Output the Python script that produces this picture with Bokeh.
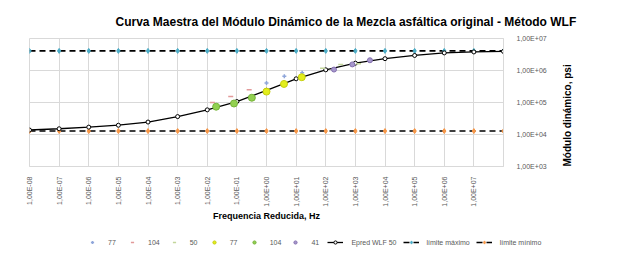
import math
from bokeh.plotting import figure
from bokeh.layouts import column
from bokeh.models import Legend, LegendItem, FixedTicker, Range1d
from bokeh.embed import file_html
from bokeh.resources import INLINE

# ---- tick labels ----
x_ticks = [1e-8, 1e-7, 1e-6, 1e-5, 1e-4, 1e-3, 1e-2, 1e-1, 1e0, 1e1, 1e2, 1e3, 1e4, 1e5, 1e6, 1e7]
x_labels = ["1,00E-08", "1,00E-07", "1,00E-06", "1,00E-05", "1,00E-04", "1,00E-03", "1,00E-02",
            "1,00E-01", "1,00E+00", "1,00E+01", "1,00E+02", "1,00E+03", "1,00E+04", "1,00E+05",
            "1,00E+06", "1,00E+07"]
y_ticks = [1e3, 1e4, 1e5, 1e6, 1e7]
y_labels = ["1,00E+03", "1,00E+04", "1,00E+05", "1,00E+06", "1,00E+07"]

# ---- master curve (Epred WLF 50) ----
curve_freq = [1e-8, 1e-7, 1e-6, 1e-5, 1e-4, 1e-3, 1e-2, 1e-1, 1e0, 1e1, 1e2, 1e3, 1e4, 1e5, 1e6, 1e7, 1e8]
curve_mod = [13800, 15100, 17000, 19500, 24500, 36300, 58900, 107000, 240000, 550000,
             1050000, 1700000, 2340000, 2950000, 3550000, 3800000, 3950000]

# ---- limits ----
lim_freq = [1e-8, 1e-7, 1e-6, 1e-5, 1e-4, 1e-3, 1e-2, 1e-1, 1e0, 1e1, 1e2, 1e3, 1e4, 1e5, 1e6, 1e7, 1e8]
lim_max = [4100000, 4100000, 4100000, 4100000, 4100000, 4100000, 4100000, 4100000, 4100000,
           4100000, 4100000, 4100000, 4100000, 4100000, 4100000, 4100000, 4100000]
lim_min = [12800, 12800, 12800, 12800, 12800, 12800, 12800, 12800, 12800,
           12800, 12800, 12800, 12800, 12800, 12800, 12800, 12800]

# ---- measured data ----
s77a_freq = [1.0, 4.0, 16.0]
s77a_mod = [407000, 661000, 851000]
s104a_freq = [0.015, 0.062, 0.26]
s104a_mod = [100000, 155000, 251000]
s50a_freq = [78, 320, 1280]
s50a_mod = [1170000, 1550000, 1620000]
s77_freq = [1.0, 3.9, 15.5]
s77_mod = [219000, 380000, 617000]
s104_freq = [0.02, 0.08, 0.32]
s104_mod = [74000, 93000, 141000]
s41_freq = [190, 790, 3100]
s41_mod = [1070000, 1550000, 2090000]

FONT = "Liberation Sans"
GRAY = "#595959"


def add_series(fig, visible=True):
    r = {}
    r["max_l"] = fig.line(lim_freq, lim_max, line_color="black", line_width=1.6, line_dash="6 4", visible=visible)
    r["max_m"] = fig.scatter(lim_freq, lim_max, marker="diamond", size=5, fill_color="#4bacc6",
                             line_color="#4bacc6", visible=visible)
    r["min_l"] = fig.line(lim_freq, lim_min, line_color="black", line_width=1.6, line_dash="6 4", visible=visible)
    r["min_m"] = fig.scatter(lim_freq, lim_min, marker="diamond", size=5, fill_color="#f79646",
                             line_color="#f79646", visible=visible)
    r["cur_l"] = fig.line(curve_freq, curve_mod, line_color="black", line_width=1.3, visible=visible)
    r["cur_m"] = fig.scatter(curve_freq, curve_mod, marker="circle", size=4, fill_color="white",
                             line_color="black", line_width=1, visible=visible)
    r["77a"] = fig.scatter(s77a_freq, s77a_mod, marker="cross", size=4, line_color="#8fa6da",
                           line_width=1.5, visible=visible)
    r["104a"] = fig.scatter(s104a_freq, s104a_mod, marker="dash", size=5, line_color="#e29a9a",
                            line_width=1.5, visible=visible)
    r["50a"] = fig.scatter(s50a_freq, s50a_mod, marker="dash", size=5, line_color="#c3d69b",
                           line_width=1.5, visible=visible)
    r["77"] = fig.scatter(s77_freq, s77_mod, marker="circle", size=7, fill_color="#e3ee1c",
                          line_color="#c6cf10", visible=visible)
    r["104"] = fig.scatter(s104_freq, s104_mod, marker="circle", size=7, fill_color="#92d050",
                           line_color="#76b33a", visible=visible)
    r["41"] = fig.scatter(s41_freq, s41_mod, marker="circle", size=5, fill_color="#a698cc",
                          line_color="#8570b0", visible=visible)
    return r


# ================= main chart =================
p = figure(width=624, height=232, x_axis_type="log", y_axis_type="log",
           x_range=Range1d(1e-8, 1e8), y_range=Range1d(1e3, 1e7),
           y_axis_location="right", output_backend="svg", toolbar_location=None,
           min_border_left=29, min_border_right=121, min_border_top=38, min_border_bottom=66)

p.title.text = "Curva Maestra del Módulo Dinámico de la Mezcla asfáltica original - Método WLF"
p.title.align = "left"
p.title.offset = 86
p.title.text_font = FONT
p.title.text_font_size = "12px"
p.title.text_font_style = "bold"
p.title.text_color = "#000000"
try:
    p.title.standoff = 20
except Exception:
    pass

p.outline_line_color = "#d9d9d9"
p.xgrid.grid_line_color = "#d9d9d9"
p.ygrid.grid_line_color = "#d9d9d9"
p.xgrid.ticker = FixedTicker(ticks=x_ticks + [1e8])
p.ygrid.ticker = FixedTicker(ticks=y_ticks)

xa = p.xaxis[0]
xa.ticker = FixedTicker(ticks=x_ticks)
xa.major_label_overrides = {t: l for t, l in zip(x_ticks, x_labels)}
xa.major_label_orientation = math.pi / 2
xa.major_label_text_font = FONT
xa.major_label_text_font_size = "7px"
xa.major_label_text_color = GRAY
xa.major_label_standoff = 4
xa.axis_line_color = "#d9d9d9"
xa.major_tick_line_color = None
xa.minor_tick_line_color = None
xa.axis_label = "Frequencia Reducida, Hz"
xa.axis_label_text_font = FONT
xa.axis_label_text_font_size = "9px"
xa.axis_label_text_font_style = "bold"
xa.axis_label_text_color = "#000000"
xa.axis_label_standoff = 1

ya = p.yaxis[0]
ya.ticker = FixedTicker(ticks=y_ticks)
ya.major_label_overrides = {t: l for t, l in zip(y_ticks, y_labels)}
ya.major_label_text_font = FONT
ya.major_label_text_font_size = "7px"
ya.major_label_text_color = GRAY
ya.major_label_standoff = 7
ya.axis_line_color = "#d9d9d9"
ya.major_tick_line_color = None
ya.minor_tick_line_color = None
ya.axis_label = "Módulo dinámico, psi"
ya.axis_label_orientation = math.pi / 2
ya.axis_label_text_font = FONT
ya.axis_label_text_font_size = "10px"
ya.axis_label_text_font_style = "bold"
ya.axis_label_text_color = "#000000"
ya.axis_label_standoff = 18
try:
    ya.axis_label_align = "start"
except Exception:
    ya.axis_label_text_align = "center"

add_series(p, visible=True)

# ================= legend strip =================
lg = figure(width=624, height=23, x_range=Range1d(0, 1), y_range=Range1d(0, 1),
            x_axis_location=None, y_axis_location=None, output_backend="svg",
            toolbar_location=None, min_border=0, outline_line_color=None)
lg.grid.visible = False
rl = add_series(lg, visible=False)

legend_x = 84
try:
    p.frame_align = False
    lg.frame_align = False
except Exception:
    legend_x = 55

legend = Legend(items=[
    LegendItem(label="77", renderers=[rl["77a"]]),
    LegendItem(label="104", renderers=[rl["104a"]]),
    LegendItem(label="50", renderers=[rl["50a"]]),
    LegendItem(label="77", renderers=[rl["77"]]),
    LegendItem(label="104", renderers=[rl["104"]]),
    LegendItem(label="41", renderers=[rl["41"]]),
    LegendItem(label="Epred WLF 50", renderers=[rl["cur_l"], rl["cur_m"]]),
    LegendItem(label="límite máximo", renderers=[rl["max_l"], rl["max_m"]]),
    LegendItem(label="límite mínimo", renderers=[rl["min_l"], rl["min_m"]]),
], orientation="horizontal", location=(legend_x, 9))
legend.border_line_color = None
legend.background_fill_alpha = 0
legend.inactive_fill_alpha = 0
legend.label_text_font = FONT
legend.label_text_font_size = "7px"
legend.label_text_color = GRAY
legend.glyph_width = 16
legend.glyph_height = 8
legend.label_standoff = 8
legend.label_width = 10
legend.spacing = 6
legend.padding = 0
legend.margin = 0
legend.click_policy = "none"
lg.add_layout(legend)

layout = column(p, lg, spacing=0)
open("out.html", "w").write(file_html(layout, INLINE))
